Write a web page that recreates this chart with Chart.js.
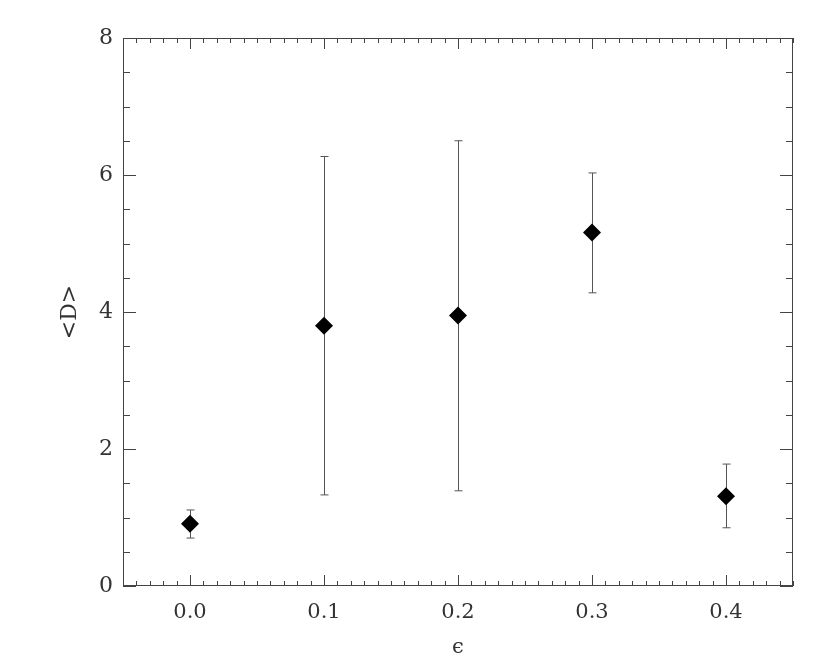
<!DOCTYPE html>
<html>
<head>
<meta charset="utf-8">
<script src="https://cdn.jsdelivr.net/npm/chart.js@4.4.0/dist/chart.umd.min.js"></script>
<style>
  html, body { margin: 0; padding: 0; background: #fff; }
  #wrap { width: 830px; height: 664px; }
</style>
</head>
<body>
<div id="wrap"><canvas id="chart" width="830" height="664"></canvas></div>
<script>
// data
const epsilon = [0.0, 0.1, 0.2, 0.3, 0.4];
const meanD   = [0.91, 3.80, 3.95, 5.16, 1.31];
const errLow  = [0.70, 1.33, 1.39, 4.28, 0.85];
const errHigh = [1.11, 6.27, 6.50, 6.03, 1.78];

const xTicks = [0.0, 0.1, 0.2, 0.3, 0.4];
const yTicks = [0, 2, 4, 6, 8];

const ink = '#333';
const fontFam = '"DejaVu Serif", "Liberation Serif", serif';

// error bars, drawn under the diamonds
const errorBars = {
  id: 'errorBars',
  beforeDatasetsDraw(chart) {
    const { ctx, scales: { x, y } } = chart;
    ctx.save();
    ctx.strokeStyle = '#555';
    ctx.lineWidth = 1;
    epsilon.forEach((e, i) => {
      const px = Math.round(x.getPixelForValue(e)) + 0.5;
      const lo = y.getPixelForValue(errLow[i]);
      const hi = y.getPixelForValue(errHigh[i]);
      ctx.beginPath();
      ctx.moveTo(px, lo); ctx.lineTo(px, hi);
      ctx.moveTo(px - 4, lo); ctx.lineTo(px + 4, lo);
      ctx.moveTo(px - 4, hi); ctx.lineTo(px + 4, hi);
      ctx.stroke();
    });
    ctx.restore();
  }
};

// frame with inward ticks on all four sides
const frameTicks = {
  id: 'frameTicks',
  afterDraw(chart) {
    const { ctx, chartArea: a, scales: { x, y } } = chart;
    ctx.save();
    ctx.strokeStyle = '#444';
    ctx.lineWidth = 1;
    ctx.strokeRect(a.left + 0.5, a.top + 0.5, a.right - a.left - 1, a.bottom - a.top - 1);
    ctx.beginPath();
    for (let k = -5; k <= 45; k++) {
      const px = Math.round(x.getPixelForValue(k / 100)) + 0.5;
      const len = k % 10 === 0 ? 11 : 5;
      ctx.moveTo(px, a.bottom); ctx.lineTo(px, a.bottom - len);
      ctx.moveTo(px, a.top); ctx.lineTo(px, a.top + len);
    }
    for (let k = 0; k <= 16; k++) {
      const py = Math.round(y.getPixelForValue(k / 2)) + 0.5;
      const len = k % 4 === 0 ? 13 : 7;
      ctx.moveTo(a.left, py); ctx.lineTo(a.left + len, py);
      ctx.moveTo(a.right, py); ctx.lineTo(a.right - len, py);
    }
    ctx.stroke();
    ctx.restore();
  }
};

new Chart(document.getElementById('chart'), {
  type: 'scatter',
  data: {
    datasets: [{
      data: epsilon.map((e, i) => ({ x: e, y: meanD[i] })),
      pointStyle: 'rectRot',
      pointRadius: 9,
      pointHoverRadius: 9,
      backgroundColor: '#000',
      borderColor: '#000',
      borderWidth: 0
    }]
  },
  options: {
    responsive: false,
    animation: false,
    events: [],
    layout: { padding: { left: 0, right: 37, top: 38, bottom: 0 } },
    plugins: { legend: { display: false }, tooltip: { enabled: false } },
    scales: {
      x: {
        type: 'linear',
        min: -0.05,
        max: 0.45,
        afterBuildTicks: s => { s.ticks = xTicks.map(v => ({ value: v })); },
        afterFit: s => { s.height = 78; },
        grid: { display: false, drawTicks: false },
        border: { display: false },
        ticks: {
          color: ink,
          font: { family: fontFam, size: 21 },
          padding: 14,
          callback: v => v.toFixed(1)
        },
        title: {
          display: true,
          text: 'ϵ',
          color: ink,
          font: { family: fontFam, size: 21 },
          padding: { top: 0, bottom: 4 }
        }
      },
      y: {
        min: 0,
        max: 8,
        afterBuildTicks: s => { s.ticks = yTicks.map(v => ({ value: v })); },
        afterFit: s => { s.width = 123; },
        grid: { display: false, drawTicks: false },
        border: { display: false },
        ticks: {
          color: ink,
          font: { family: fontFam, size: 22 },
          padding: 10,
          callback: v => String(v)
        },
        title: {
          display: true,
          text: '<D>',
          color: ink,
          font: { family: fontFam, size: 22 },
          padding: { top: 57, bottom: 0 }
        }
      }
    }
  },
  plugins: [errorBars, frameTicks]
});
</script>
</body>
</html>
